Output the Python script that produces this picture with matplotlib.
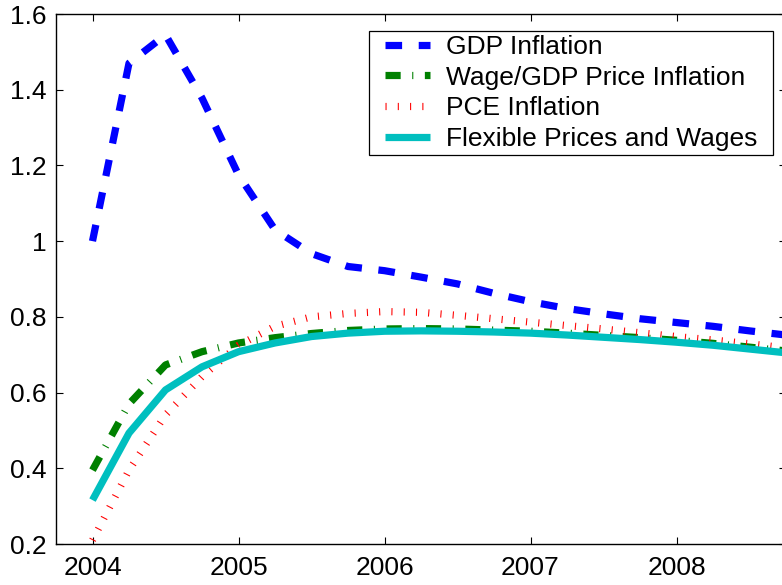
import matplotlib
matplotlib.use("Agg")
import matplotlib.pyplot as plt
from matplotlib.path import Path

plt.rcParams["font.family"] = ["Liberation Sans", "DejaVu Sans"]

# Quarterly response paths, 2004Q1 .. 2008Q4
quarters = [2004.00, 2004.25, 2004.50, 2004.75,
            2005.00, 2005.25, 2005.50, 2005.75,
            2006.00, 2006.25, 2006.50, 2006.75,
            2007.00, 2007.25, 2007.50, 2007.75,
            2008.00, 2008.25, 2008.50, 2008.75]

gdp_inflation = [1.000, 1.470, 1.545, 1.378, 1.175, 1.030, 0.967, 0.933,
                 0.922, 0.905, 0.887, 0.862, 0.840, 0.822, 0.808, 0.795,
                 0.785, 0.775, 0.763, 0.752]

wage_gdp_inflation = [0.395, 0.570, 0.673, 0.708, 0.731, 0.745, 0.756, 0.764,
                      0.768, 0.769, 0.768, 0.765, 0.762, 0.757, 0.751, 0.745,
                      0.738, 0.730, 0.720, 0.710]

pce_inflation = [0.210, 0.395, 0.541, 0.642, 0.725, 0.775, 0.800, 0.809,
                 0.814, 0.812, 0.804, 0.795, 0.786, 0.777, 0.768, 0.758,
                 0.748, 0.739, 0.729, 0.718]

flexible = [0.316, 0.493, 0.607, 0.668, 0.708, 0.731, 0.748, 0.757,
            0.762, 0.763, 0.762, 0.760, 0.757, 0.752, 0.746, 0.740,
            0.733, 0.725, 0.715, 0.705]

series_labels = ["GDP Inflation", "Wage/GDP Price Inflation",
                 "PCE Inflation", "Flexible Prices and Wages"]

x_ticks = [2004, 2005, 2006, 2007, 2008]
x_tick_labels = ["2004", "2005", "2006", "2007", "2008"]
y_ticks = [0.2, 0.4, 0.6, 0.8, 1.0, 1.2, 1.4, 1.6]
y_tick_labels = ["0.2", "0.4", "0.6", "0.8", "1", "1.2", "1.4", "1.6"]


class WideSquare:
    """Square legend frame with separate horizontal and vertical padding."""

    def __init__(self, xpad, ypad):
        self.xpad = xpad
        self.ypad = ypad

    def __call__(self, x0, y0, width, height, mutation_size):
        px = self.xpad * mutation_size
        py = self.ypad * mutation_size
        x1, y1 = x0 + width + px, y0 + height + py
        x0, y0 = x0 - px, y0 - py
        return Path([(x0, y0), (x1, y0), (x1, y1), (x0, y1), (x0, y0)],
                    closed=True)


W, H = 782, 585
fig = plt.figure(figsize=(W / 100, H / 100), dpi=100)
ax = fig.add_axes([56 / W, 1 - 544 / H, 730 / W, 530 / H])

lw = 5.2
ax.plot(quarters, gdp_inflation, color="#0000ff", lw=lw,
        linestyle=(0, (2.3, 2.3)), label=series_labels[0])
ax.plot(quarters, wage_gdp_inflation, color="#008000", lw=lw,
        linestyle=(0, (2.1, 1.6, 0.15, 1.6)), label=series_labels[1])
ax.plot(quarters, pce_inflation, color="#ff0000", lw=lw,
        linestyle=(0, (0.15, 1.55)), label=series_labels[2])
ax.plot(quarters, flexible, color="#00bfbf", lw=lw,
        solid_capstyle="butt", label=series_labels[3])

ax.set_xlim(2003.75, 2008.75)
ax.set_ylim(0.2, 1.6)
ax.set_xticks(x_ticks)
ax.set_xticklabels(x_tick_labels)
ax.set_yticks(y_ticks)
ax.set_yticklabels(y_tick_labels)

ax.tick_params(direction="in", length=5, width=0.8, top=True, right=True,
               labelsize=19, colors="black")
ax.tick_params(axis="x", pad=8.5)
ax.tick_params(axis="y", pad=6.5)
for sp in ax.spines.values():
    sp.set_linewidth(1.0)
    sp.set_color("black")

leg = ax.legend(loc="upper right", bbox_to_anchor=((763 - 56) / 730, 1 - 15 / 530),
                fontsize=19, frameon=True, fancybox=False,
                edgecolor="black", framealpha=1, handlelength=1.7,
                handletextpad=0.6, borderpad=0.23, labelspacing=0.25,
                borderaxespad=0)
frame = leg.get_frame()
frame.set_linewidth(0.9)
frame.set_boxstyle(WideSquare(0.38, -0.09))

fig.savefig("out.png", dpi=100)
